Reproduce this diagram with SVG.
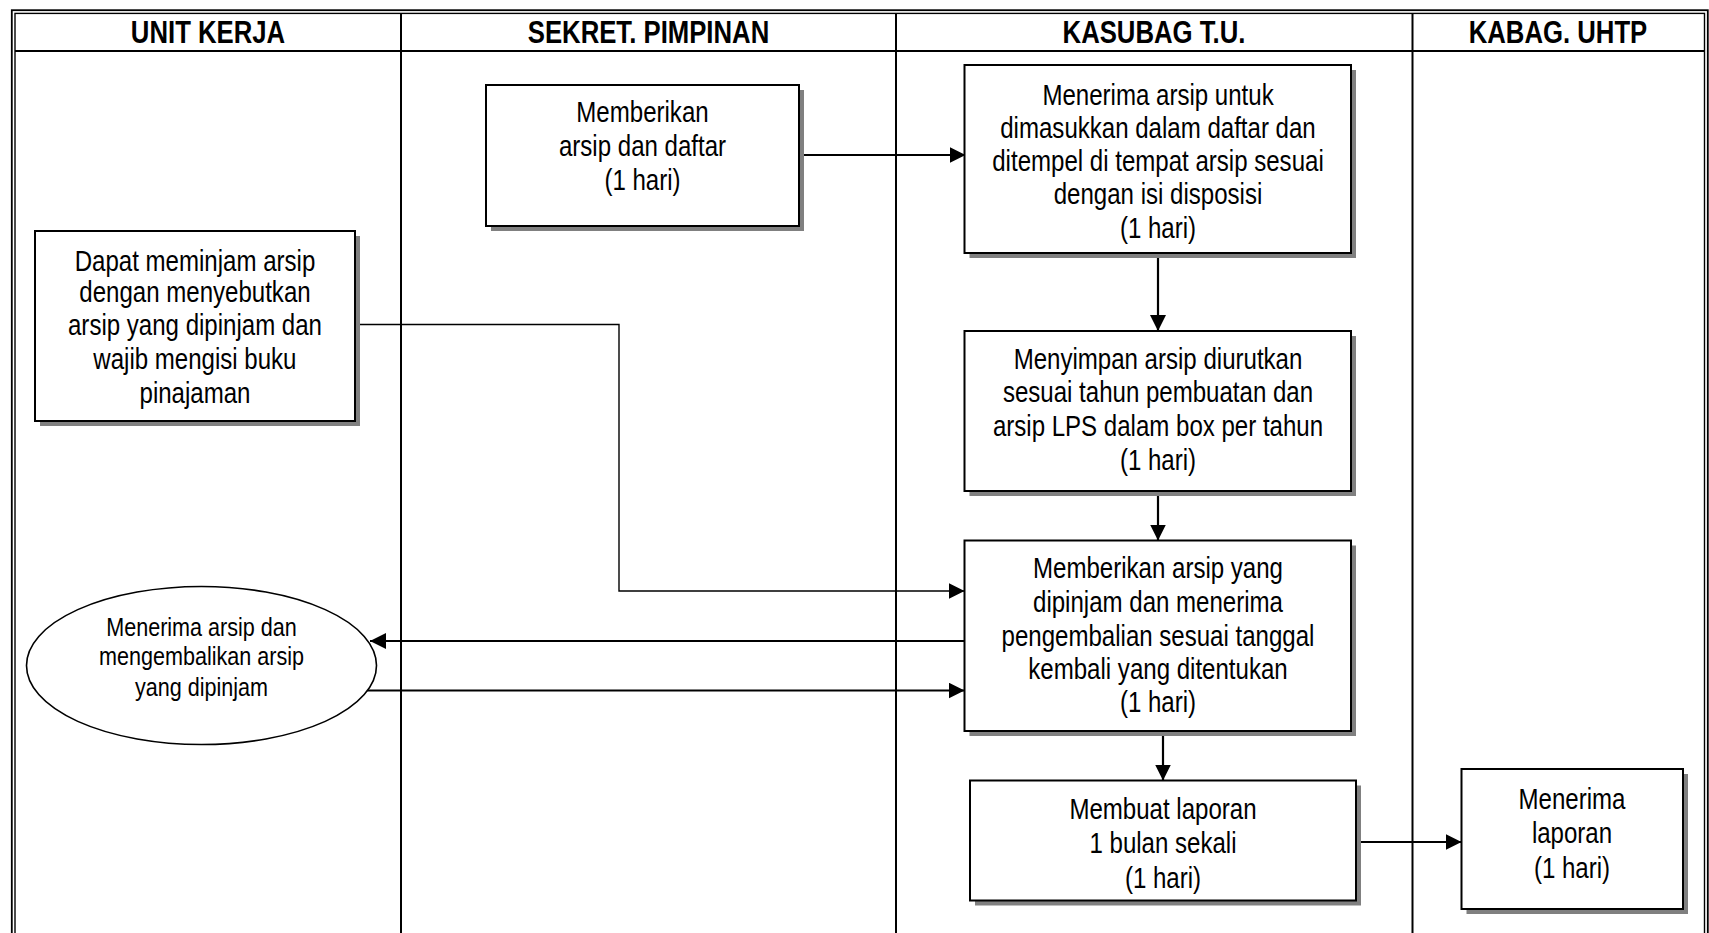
<svg xmlns="http://www.w3.org/2000/svg" width="1709" height="933" viewBox="0 0 1709 933">
  <style>
    .frame { fill: none; stroke: #000; }
    .lane { stroke: #000; stroke-width: 2; }
    .box { fill: #fff; stroke: #000; stroke-width: 2; }
    .shadow { fill: #808080; stroke: none; }
    .oval { fill: #fff; stroke: #000; stroke-width: 1.6; }
    .link { fill: none; stroke: #000; stroke-width: 2.2; }
    .thin { stroke-width: 1.4; }
    .h, .t, .s {
      font-family: "Liberation Sans", Arial, sans-serif;
      text-anchor: middle;
      fill: #000;
      transform-box: fill-box;
      transform-origin: center;
      transform: scaleX(0.83);
    }
    .h { font-size: 31px; font-weight: bold; }
    .t { font-size: 29px; }
    .s { font-size: 26px; }
  </style>
  <defs>
    <marker id="arrow" markerUnits="userSpaceOnUse" viewBox="0 0 16 16" refX="16" refY="8" markerWidth="16" markerHeight="16" orient="auto">
      <path d="M0,0 L16,8 L0,16 z" fill="#000"/>
    </marker>
  </defs>

  <rect width="1709" height="933" fill="#fff"/>

  <!-- swimlane frame -->
  <g id="lanes">
    <rect class="frame" x="11.8" y="10.2" width="1696" height="1000" stroke-width="1.8"/>
    <rect class="frame" x="15" y="13.4" width="1689.5" height="1000" stroke-width="1.4"/>
    <line class="lane" x1="15" y1="51" x2="1704.5" y2="51"/>
    <line class="lane" x1="401" y1="13.4" x2="401" y2="933"/>
    <line class="lane" x1="896" y1="13.4" x2="896" y2="933"/>
    <line class="lane" x1="1412.5" y1="13.4" x2="1412.5" y2="933"/>
    <text class="h" x="208" y="43">UNIT KERJA</text>
    <text class="h" x="648.5" y="43">SEKRET. PIMPINAN</text>
    <text class="h" x="1154" y="43">KASUBAG T.U.</text>
    <text class="h" x="1558" y="43">KABAG. UHTP</text>
  </g>

  <!-- connectors -->
  <g id="connectors">
    <path class="link" d="M799,155 H965.5" marker-end="url(#arrow)"/>
    <path class="link" d="M1158,253 V331" marker-end="url(#arrow)"/>
    <path class="link" d="M1158,491 V540.5" marker-end="url(#arrow)"/>
    <path class="link" d="M1163,731 V780.5" marker-end="url(#arrow)"/>
    <path class="link" d="M1356,842 H1461.5" marker-end="url(#arrow)"/>
    <path class="link thin" d="M355,324.5 H619 V591 H964.5" marker-end="url(#arrow)"/>
    <path class="link" d="M964.5,641 H370" marker-end="url(#arrow)"/>
    <path class="link" d="M367,690.5 H964.5" marker-end="url(#arrow)"/>
  </g>

  <!-- SEKRET. PIMPINAN -->
  <g id="n-beri-arsip">
    <rect class="shadow" x="491" y="90" width="313" height="141"/>
    <rect class="box" x="486" y="85" width="313" height="141"/>
    <text class="t" x="642.5" y="122">Memberikan</text>
    <text class="t" x="642.5" y="156">arsip dan daftar</text>
    <text class="t" x="642.5" y="190">(1 hari)</text>
  </g>

  <!-- KASUBAG T.U. -->
  <g id="n-terima-arsip">
    <rect class="shadow" x="969.5" y="70" width="386.5" height="188"/>
    <rect class="box" x="964.5" y="65" width="386.5" height="188"/>
    <text class="t" x="1158" y="105">Menerima arsip untuk</text>
    <text class="t" x="1158" y="138">dimasukkan dalam daftar dan</text>
    <text class="t" x="1158" y="171">ditempel di tempat arsip sesuai</text>
    <text class="t" x="1158" y="204">dengan isi disposisi</text>
    <text class="t" x="1158" y="238">(1 hari)</text>
  </g>

  <g id="n-simpan-arsip">
    <rect class="shadow" x="969.5" y="336" width="386.5" height="160"/>
    <rect class="box" x="964.5" y="331" width="386.5" height="160"/>
    <text class="t" x="1158" y="369">Menyimpan arsip diurutkan</text>
    <text class="t" x="1158" y="402">sesuai tahun pembuatan dan</text>
    <text class="t" x="1158" y="436">arsip LPS dalam box per tahun</text>
    <text class="t" x="1158" y="470">(1 hari)</text>
  </g>

  <g id="n-pinjam-kembali">
    <rect class="shadow" x="969.5" y="545.5" width="386.5" height="190.5"/>
    <rect class="box" x="964.5" y="540.5" width="386.5" height="190.5"/>
    <text class="t" x="1158" y="578">Memberikan arsip yang</text>
    <text class="t" x="1158" y="612">dipinjam dan menerima</text>
    <text class="t" x="1158" y="646">pengembalian sesuai tanggal</text>
    <text class="t" x="1158" y="679">kembali yang ditentukan</text>
    <text class="t" x="1158" y="712">(1 hari)</text>
  </g>

  <g id="n-buat-laporan">
    <rect class="shadow" x="975" y="785.5" width="386" height="120"/>
    <rect class="box" x="970" y="780.5" width="386" height="120"/>
    <text class="t" x="1163" y="819">Membuat laporan</text>
    <text class="t" x="1163" y="853">1 bulan sekali</text>
    <text class="t" x="1163" y="888">(1 hari)</text>
  </g>

  <!-- KABAG. UHTP -->
  <g id="n-terima-laporan">
    <rect class="shadow" x="1466.5" y="774" width="221.5" height="140"/>
    <rect class="box" x="1461.5" y="769" width="221.5" height="140"/>
    <text class="t" x="1572" y="809">Menerima</text>
    <text class="t" x="1572" y="843">laporan</text>
    <text class="t" x="1572" y="878">(1 hari)</text>
  </g>

  <!-- UNIT KERJA -->
  <g id="n-pinjam-arsip">
    <rect class="shadow" x="40" y="236" width="320" height="190"/>
    <rect class="box" x="35" y="231" width="320" height="190"/>
    <text class="t" x="195" y="271">Dapat meminjam arsip</text>
    <text class="t" x="195" y="302">dengan menyebutkan</text>
    <text class="t" x="195" y="335">arsip yang dipinjam dan</text>
    <text class="t" x="195" y="369">wajib mengisi buku</text>
    <text class="t" x="195" y="403">pinajaman</text>
  </g>

  <g id="n-terima-kembalikan">
    <ellipse class="oval" cx="201.5" cy="665.5" rx="175" ry="79"/>
    <text class="s" x="201.5" y="636">Menerima arsip dan</text>
    <text class="s" x="201.5" y="665">mengembalikan arsip</text>
    <text class="s" x="201.5" y="696">yang dipinjam</text>
  </g>
</svg>
